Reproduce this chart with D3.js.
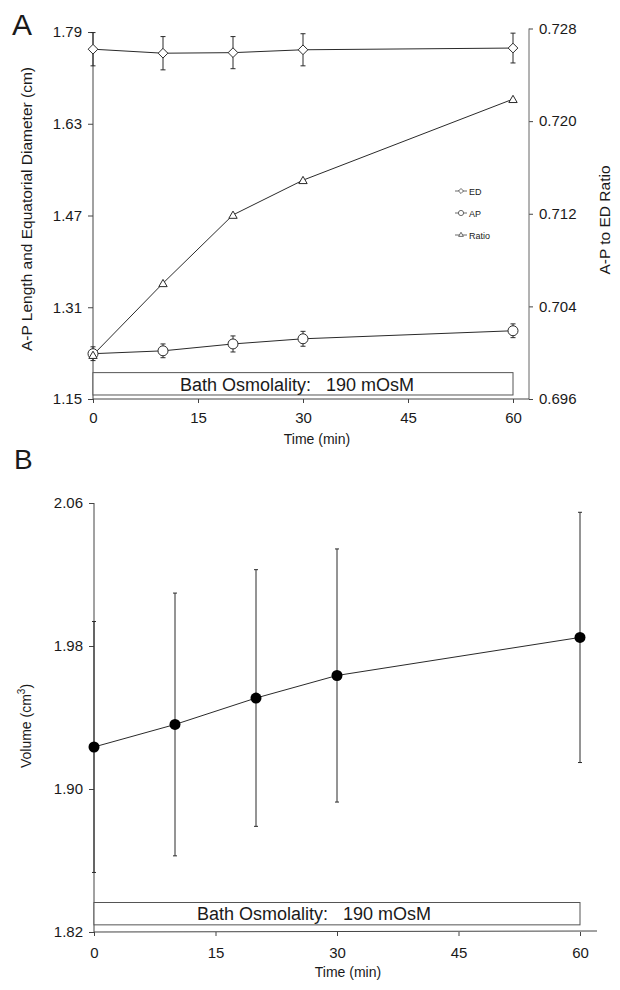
<!DOCTYPE html>
<html><head><meta charset="utf-8">
<script src="https://cdn.jsdelivr.net/npm/d3@7"></script>
<style>
html,body{margin:0;padding:0;background:#fff;}
svg text{font-family:"Liberation Sans",Arial,Helvetica,sans-serif;fill:#1a1a1a;}
</style></head>
<body>
<svg id="c" width="620" height="990"></svg>
<script>
// ---- data ----
const times = [0, 10, 20, 30, 60];
const edMean = [1.760, 1.753, 1.754, 1.759, 1.762];
const edErr = [0.029, 0.029, 0.028, 0.028, 0.026];
const apMean = [1.229, 1.234, 1.246, 1.255, 1.269];
const apErr = [0.012, 0.012, 0.014, 0.013, 0.012];
const ratioMean = [0.6998, 0.7060, 0.7119, 0.7149, 0.7219];
const volMean = [1.9235, 1.9361, 1.9509, 1.9635, 1.9848];
const volErr = [0.0702, 0.0735, 0.0718, 0.0708, 0.0700];
const xTicks = [0, 15, 30, 45, 60];
const leftTicksA = [1.15, 1.31, 1.47, 1.63, 1.79];
const rightTicksA = [0.696, 0.704, 0.712, 0.720, 0.728];
const ticksB = [1.82, 1.90, 1.98, 2.06];
const legendLabels = ["ED", "AP", "Ratio"];
const osmText = "Bath Osmolality:\u00a0\u00a0\u00a0190 mOsM";
const osmBoxA = [1.157, 1.196];
const osmBoxB = [1.824, 1.8365];

const svg = d3.select("#c");
const LINE = "#2a2a2a";
const AX = "#444";

// ---- Panel A ----
const xA = d3.scaleLinear().domain([0, 60]).range([93, 513]);
const yL = d3.scaleLinear().domain([1.15, 1.79]).range([399, 32]);
const yR = d3.scaleLinear().domain([0.696, 0.728]).range([399, 28.5]);

function styleAxis(g){
  g.select(".domain").remove();
  g.selectAll(".tick line").attr("stroke", AX).attr("stroke-width", 1);
  g.selectAll(".tick text").attr("font-size", 15).attr("fill", "#1a1a1a")
   .style("font-family", '"Liberation Sans",Arial,sans-serif');
}

const gA = svg.append("g");
gA.append("g").attr("transform", "translate(93,0)")
  .call(d3.axisLeft(yL).tickValues(leftTicksA).tickFormat(d3.format(".2f")).tickSize(5).tickPadding(6))
  .call(styleAxis);
gA.append("g").attr("transform", "translate(529,0)")
  .call(d3.axisRight(yR).tickValues(rightTicksA).tickFormat(d3.format(".3f")).tickSize(4).tickPadding(6))
  .call(styleAxis);
gA.append("g").attr("transform", "translate(0,399)")
  .call(d3.axisBottom(xA).tickValues(xTicks).tickFormat(d3.format("d")).tickSize(4).tickPadding(9))
  .call(styleAxis);
// axis lines
gA.append("line").attr("x1", 93).attr("x2", 93).attr("y1", yL(1.79)).attr("y2", yL(1.15)).attr("stroke", AX);
gA.append("line").attr("x1", 529).attr("x2", 529).attr("y1", yR(0.728)).attr("y2", yR(0.696)).attr("stroke", "#666");
gA.append("line").attr("x1", 93).attr("x2", 529).attr("y1", 399).attr("y2", 399).attr("stroke", AX);

// osmolality box A
gA.append("rect").attr("x", xA(0)).attr("y", yL(osmBoxA[1]))
  .attr("width", xA(60) - xA(0)).attr("height", yL(osmBoxA[0]) - yL(osmBoxA[1]))
  .attr("fill", "#fff").attr("stroke", "#555").attr("stroke-width", 1);
gA.append("text").attr("x", 297).attr("y", 391).attr("text-anchor", "middle")
  .attr("font-size", 18).text(osmText);

// lines
const lineL = d3.line().x((d, i) => xA(times[i])).y(d => yL(d));
const lineR = d3.line().x((d, i) => xA(times[i])).y(d => yR(d));
gA.append("path").attr("d", lineL(edMean)).attr("fill", "none").attr("stroke", LINE).attr("stroke-width", 1);
gA.append("path").attr("d", lineL(apMean)).attr("fill", "none").attr("stroke", LINE).attr("stroke-width", 1);
gA.append("path").attr("d", lineR(ratioMean)).attr("fill", "none").attr("stroke", LINE).attr("stroke-width", 1);

function errBars(g, xs, ys, means, errs, cap){
  means.forEach((m, i) => {
    const x = xs(times[i]);
    const y1 = ys(m + errs[i]), y2 = ys(m - errs[i]);
    g.append("line").attr("x1", x).attr("x2", x).attr("y1", y1).attr("y2", y2).attr("stroke", LINE).attr("stroke-width", 1);
    g.append("line").attr("x1", x - cap).attr("x2", x + cap).attr("y1", y1).attr("y2", y1).attr("stroke", LINE).attr("stroke-width", 1);
    g.append("line").attr("x1", x - cap).attr("x2", x + cap).attr("y1", y2).attr("y2", y2).attr("stroke", LINE).attr("stroke-width", 1);
  });
}
errBars(gA, xA, yL, edMean, edErr, 2.5);
errBars(gA, xA, yL, apMean, apErr, 2.5);

const diamond = d3.symbol().type(d3.symbolDiamond2).size(60);
const tri = d3.symbol().type(d3.symbolTriangle2).size(50);
gA.selectAll(".ed").data(edMean).enter().append("path")
  .attr("d", diamond).attr("transform", (d, i) => `translate(${xA(times[i])},${yL(d)})`)
  .attr("fill", "#fff").attr("stroke", LINE).attr("stroke-width", 1);
gA.selectAll(".ap").data(apMean).enter().append("circle")
  .attr("cx", (d, i) => xA(times[i])).attr("cy", d => yL(d)).attr("r", 5)
  .attr("fill", "#fff").attr("stroke", LINE).attr("stroke-width", 1);
gA.selectAll(".ra").data(ratioMean).enter().append("path")
  .attr("d", tri).attr("transform", (d, i) => `translate(${xA(times[i])},${yR(d) + 1})`)
  .attr("fill", "#fff").attr("stroke", LINE).attr("stroke-width", 1);

// legend
const legY = [191, 213, 235];
legendLabels.forEach((lab, i) => {
  const y = legY[i];
  gA.append("line").attr("x1", 455).attr("x2", 467).attr("y1", y).attr("y2", y).attr("stroke", "#444").attr("stroke-width", 0.8);
  if (i === 0) gA.append("path").attr("d", d3.symbol().type(d3.symbolDiamond2).size(16)).attr("transform", `translate(461,${y})`).attr("fill", "#fff").attr("stroke", "#444").attr("stroke-width", 0.8);
  if (i === 1) gA.append("circle").attr("cx", 461).attr("cy", y).attr("r", 2.6).attr("fill", "#fff").attr("stroke", "#444").attr("stroke-width", 0.8);
  if (i === 2) gA.append("path").attr("d", d3.symbol().type(d3.symbolTriangle2).size(16)).attr("transform", `translate(461,${y})`).attr("fill", "#fff").attr("stroke", "#444").attr("stroke-width", 0.8);
  gA.append("text").attr("x", 469).attr("y", y + 3.5).attr("font-size", 9).attr("fill", "#333").text(lab);
});

// titles
gA.append("text").attr("x", 12).attr("y", 35).attr("font-size", 30).text("A");
gA.append("text").attr("transform", "translate(32,209) rotate(-90)").attr("text-anchor", "middle")
  .attr("font-size", 15.5).text("A-P Length and Equatorial Diameter (cm)");
gA.append("text").attr("transform", "translate(610,220) rotate(-90)").attr("text-anchor", "middle")
  .attr("font-size", 15.5).text("A-P to ED Ratio");
gA.append("text").attr("x", 317).attr("y", 444).attr("text-anchor", "middle")
  .attr("font-size", 14).text("Time (min)");

// ---- Panel B ----
const xB = d3.scaleLinear().domain([0, 60]).range([94, 580]);
const yB = d3.scaleLinear().domain([1.82, 2.06]).range([932, 503]);
const gB = svg.append("g");
gB.append("g").attr("transform", "translate(94,0)")
  .call(d3.axisLeft(yB).tickValues(ticksB).tickFormat(d3.format(".2f")).tickSize(5).tickPadding(6))
  .call(styleAxis);
gB.append("g").attr("transform", "translate(0,932)")
  .call(d3.axisBottom(xB).tickValues(xTicks).tickFormat(d3.format("d")).tickSize(4).tickPadding(11))
  .call(styleAxis);
gB.append("line").attr("x1", 94).attr("x2", 94).attr("y1", yB(2.06)).attr("y2", yB(1.82)).attr("stroke", AX);
gB.append("line").attr("x1", 94).attr("x2", 597).attr("y1", 932).attr("y2", 931).attr("stroke", AX);

gB.append("rect").attr("x", xB(0)).attr("y", yB(osmBoxB[1]))
  .attr("width", xB(60) - xB(0)).attr("height", yB(osmBoxB[0]) - yB(osmBoxB[1]))
  .attr("fill", "#fff").attr("stroke", "#555").attr("stroke-width", 1);
gB.append("text").attr("x", 314).attr("y", 920).attr("text-anchor", "middle")
  .attr("font-size", 18).text(osmText);

errBars(gB, xB, yB, volMean, volErr, 2);
const lineB = d3.line().x((d, i) => xB(times[i])).y(d => yB(d));
gB.append("path").attr("d", lineB(volMean)).attr("fill", "none").attr("stroke", LINE).attr("stroke-width", 1);
gB.selectAll(".vol").data(volMean).enter().append("circle")
  .attr("cx", (d, i) => xB(times[i])).attr("cy", d => yB(d)).attr("r", 5.5)
  .attr("fill", "#000");

gB.append("text").attr("x", 14).attr("y", 469).attr("font-size", 28).text("B");
const vt = gB.append("text").attr("transform", "translate(31,726) rotate(-90)").attr("text-anchor", "middle")
  .attr("font-size", 14);
vt.append("tspan").text("Volume (cm");
vt.append("tspan").attr("font-size", 10).attr("dy", -6).text("3");
vt.append("tspan").attr("dy", 6).text(")");
gB.append("text").attr("x", 348).attr("y", 977).attr("text-anchor", "middle")
  .attr("font-size", 14).text("Time (min)");
</script>
</body></html>
